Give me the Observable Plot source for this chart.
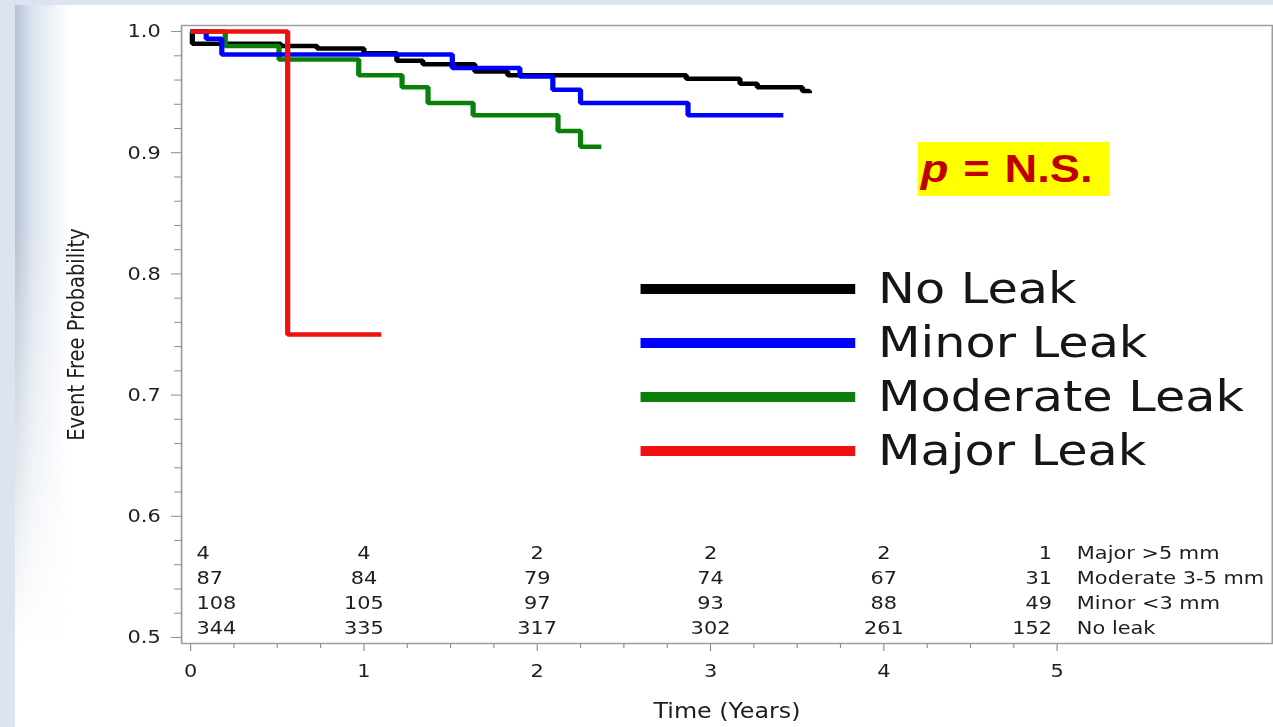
<!DOCTYPE html>
<html>
<head>
<meta charset="utf-8">
<script src="https://cdn.jsdelivr.net/npm/d3@7"></script>
<script src="https://cdn.jsdelivr.net/npm/@observablehq/plot@0.6"></script>
<style>
  html, body { margin: 0; padding: 0; background: #dbe4f0; }
  #page { position: relative; width: 1273px; height: 727px; overflow: hidden; background: #dbe4f0; }
  #panel { position: absolute; left: 15px; top: 5px; width: 1258px; height: 722px;
    background:
      linear-gradient(to bottom, rgba(255,255,255,0) 0px, rgba(255,255,255,0) 220px, #ffffff 640px),
      linear-gradient(to right, #b6c2d3 0px, #dde4ee 18px, #ffffff 55px); }
  #stage { position: absolute; left: 0; top: 0; width: 1097px; height: 727px;
    transform: scaleX(1.1604); transform-origin: 0 0; }
  #stage svg { position: absolute; left: 0; top: 0; background: transparent; }
  #legend { position: absolute; left: 551.7px; top: 262px; font-family: "DejaVu Sans", sans-serif;
    font-size: 42.5px; color: #161616; }
  .lg-row { display: flex; align-items: center; height: 54px; line-height: 54px; white-space: nowrap; }
  .lg-line { width: 185px; height: 10px; margin-right: 20px; }
  #pbox { position: absolute; left: 791.4px; top: 142px; width: 164.7px; height: 54px; background: #ffff00;
    font-family: "Liberation Sans", Arial, sans-serif; font-weight: bold; font-size: 39px; line-height: 54px;
    color: #c00000; padding-left: 2px; box-sizing: border-box; white-space: nowrap; word-spacing: 2px; }
</style>
</head>
<body>
<div id="page">
  <div id="panel"></div>
  <div id="stage">
    <div id="chart"></div>
    <div id="legend"></div>
    <div id="pbox"><i>p</i> = N.S.</div>
  </div>
</div>
<script>
// ---------- data ----------
const groups = ["No Leak", "Minor Leak", "Moderate Leak", "Major Leak"];
const groupColors = ["#000000", "#0000ff", "#0a800a", "#f01010"];

// Kaplan-Meier steps (time in years, event-free probability)
const noLeakT = [0, 0.01, 0.52, 0.73, 1.00, 1.19, 1.34, 1.64, 1.83, 2.86, 3.17, 3.27, 3.53, 3.57];
const noLeakS = [1.0, 0.990, 0.988, 0.986, 0.982, 0.976, 0.973, 0.967, 0.964, 0.961, 0.957, 0.954, 0.951, 0.949];

const minorT = [0, 0.09, 0.18, 1.51, 1.90, 2.09, 2.25, 2.87, 3.42];
const minorS = [1.0, 0.994, 0.981, 0.970, 0.963, 0.952, 0.941, 0.931, 0.931];

const moderateT = [0, 0.20, 0.51, 0.97, 1.22, 1.37, 1.63, 2.12, 2.25, 2.37];
const moderateS = [1.0, 0.988, 0.977, 0.964, 0.954, 0.941, 0.931, 0.918, 0.905, 0.905];

const majorT = [0, 0.56, 1.10];
const majorS = [1.0, 0.75, 0.75];

// numbers at risk
const riskTimes = [0, 1, 2, 3, 4, 5];
const riskMajor = [4, 4, 2, 2, 2, 1];
const riskModerate = [87, 84, 79, 74, 67, 31];
const riskMinor = [108, 105, 97, 93, 88, 49];
const riskNoLeak = [344, 335, 317, 302, 261, 152];
const riskLabels = ["Major >5 mm", "Moderate 3-5 mm", "Minor <3 mm", "No leak"];

// ticks
const yTicks = [0.5, 0.6, 0.7, 0.8, 0.9, 1.0];
const yMinorTicks = [0.52,0.54,0.56,0.58,0.62,0.64,0.66,0.68,0.72,0.74,0.76,0.78,0.82,0.84,0.86,0.88,0.92,0.94,0.96,0.98];
const xTicks = [0, 1, 2, 3, 4, 5];
const xMinorTicks = [0.25,0.5,0.75,1.25,1.5,1.75,2.25,2.5,2.75,3.25,3.5,3.75,4.25,4.5,4.75];

const yLabel = "Event Free Probability";
const xLabel = "Time (Years)";

// ---------- build tables ----------
const curves = [
  {name: groups[0], t: noLeakT, s: noLeakS, color: groupColors[0]},
  {name: groups[1], t: minorT, s: minorS, color: groupColors[1]},
  {name: groups[2], t: moderateT, s: moderateS, color: groupColors[2]},
  {name: groups[3], t: majorT, s: majorS, color: groupColors[3]}
];
const curveRows = c => c.t.map((t, i) => ({group: c.name, t, s: c.s[i]}));
const drawOrder = [0, 2, 1, 3]; // black, green, blue, red on top

const riskRows = [riskMajor, riskModerate, riskMinor, riskNoLeak];
const rowOffsets = [-90, -65, -40, -15];

const textStyle = {fontSize: 18, fill: "#1e1e1e", lineAnchor: "middle", frameAnchor: "bottom"};
const tableMarks = [];
riskRows.forEach((vals, i) => {
  const data = riskTimes.map((t, j) => ({t, n: vals[j]}));
  const dy = rowOffsets[i];
  tableMarks.push(Plot.text(data.filter(d => d.t === riskTimes[0]), {...textStyle, x: "t", text: "n", dy, dx: 5, textAnchor: "start"}));
  tableMarks.push(Plot.text(data.filter(d => d.t > riskTimes[0] && d.t < riskTimes[5]), {...textStyle, x: "t", text: "n", dy, textAnchor: "middle"}));
  tableMarks.push(Plot.text(data.filter(d => d.t === riskTimes[5]), {...textStyle, x: "t", text: "n", dy, dx: -4.3, textAnchor: "end"}));
  tableMarks.push(Plot.text([{t: riskTimes[5], label: riskLabels[i]}], {...textStyle, x: "t", text: "label", dy, dx: 17, textAnchor: "start"}));
});

const axisStroke = "#8c8c8c";

const chart = Plot.plot({
  width: 1097,
  height: 727,
  marginLeft: 156,
  marginRight: 1,
  marginTop: 25,
  marginBottom: 84,
  x: {domain: [-0.052, 6.242]},
  y: {domain: [0.495, 1.005]},
  style: {background: "transparent", fontFamily: "DejaVu Sans, sans-serif", fontSize: "18px", color: "#1e1e1e"},
  marks: [
    Plot.axisY({ticks: yMinorTicks, tickSize: 6, tickFormat: () => "", label: null, stroke: axisStroke}),
    Plot.axisY({ticks: yTicks, tickSize: 8.6, tickPadding: 9.4, tickFormat: d3.format(".1f"), label: null, stroke: axisStroke, fontSize: 18, fill: "#1e1e1e"}),
    Plot.axisX({ticks: xMinorTicks, tickSize: 5, tickFormat: () => "", label: null, stroke: axisStroke}),
    Plot.axisX({ticks: xTicks, tickSize: 8, tickPadding: 13, tickFormat: d3.format("d"), label: null, stroke: axisStroke, fontSize: 18, fill: "#1e1e1e"}),
    Plot.frame({stroke: "#9e9e9e", strokeWidth: 1.5}),
    ...drawOrder.map(i => Plot.line(curveRows(curves[i]), {
      x: "t", y: "s", curve: "step-after", stroke: curves[i].color, strokeWidth: 4.5,
      strokeLinejoin: "miter", strokeLinecap: "butt"
    })),
    ...tableMarks,
    Plot.text([yLabel], {frameAnchor: "left", rotate: -90, dx: -90.5, textAnchor: "middle", lineAnchor: "middle", fontSize: 19.5, fill: "#1e1e1e"}),
    Plot.text([xLabel], {frameAnchor: "bottom", dy: 68, textAnchor: "middle", lineAnchor: "middle", fontSize: 20.5, fill: "#1e1e1e"})
  ]
});
document.getElementById("chart").appendChild(chart);

// legend
const legend = document.getElementById("legend");
curves.forEach(c => {
  const row = document.createElement("div");
  row.className = "lg-row";
  const line = document.createElement("span");
  line.className = "lg-line";
  line.style.background = c.color;
  const label = document.createElement("span");
  label.textContent = c.name;
  row.appendChild(line);
  row.appendChild(label);
  legend.appendChild(row);
});
</script>
</body>
</html>
